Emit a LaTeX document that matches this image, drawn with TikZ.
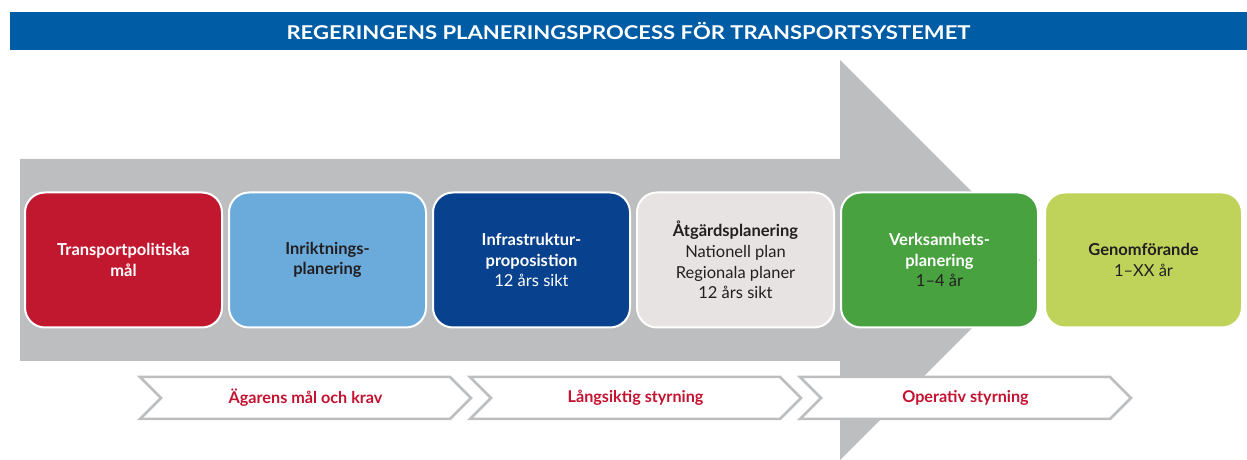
\documentclass[tikz,border=0pt]{standalone}
\usepackage{fontspec}
\setmainfont{Lato}
\usetikzlibrary{positioning,shapes.symbols}

\definecolor{titleblue}{HTML}{005DA5}
\definecolor{arrowgrey}{HTML}{BCBEC0}
\definecolor{polred}{HTML}{C1172F}
\definecolor{inrblue}{HTML}{6AABDC}
\definecolor{infblue}{HTML}{08418D}
\definecolor{atgrey}{HTML}{E6E3E2}
\definecolor{verkgreen}{HTML}{48A23F}
\definecolor{genlime}{HTML}{BFD35A}
\definecolor{darktext}{HTML}{231F20}
\definecolor{textred}{HTML}{C41230}

\begin{document}
\begin{tikzpicture}[x=1pt,y=1pt,
	phase/.style={rectangle, rounded corners=20pt, draw=white, line width=2pt, align=center, minimum width=197pt, minimum height=135pt, font=\fontsize{16.5}{20.7}\selectfont},
	steering/.style={signal, signal from=west, signal to=east, signal pointer angle=90, draw=arrowgrey, line width=2.5pt, fill=white, minimum width=331pt, minimum height=42pt, text=textred, font=\bfseries\fontsize{16.2}{18}\selectfont}]
	\useasboundingbox (0,0) rectangle (1247,460);

	% title
	\node[fill=titleblue, text=white, minimum width=1237pt, minimum height=38pt, font=\bfseries\fontsize{19}{20}\selectfont] (title) at (628.5,429) {\scalebox{1.16}[1]{REGERINGENS PLANERINGSPROCESS FÖR TRANSPORTSYSTEMET}};

	% big arrow
	\fill[arrowgrey] (20,301) -- (840,301) -- (840,400) -- (1040,200) -- (840,0) -- (840,99) -- (20,99) -- cycle;

	% phases
	\node[phase, fill=polred, text=white] (mal) at (123.5,200) {\textbf{Transportpolitiska}\\\textbf{mål}}; %
	\node[phase, fill=inrblue, text=darktext, right=5pt of mal] (inr) {\textbf{Inriktnings-}\\\textbf{planering}}; %
	\node[phase, fill=infblue, text=white, right=5pt of inr] (infra) {\textbf{Infrastruktur-}\\\textbf{proposistion}\\12 års sikt}; %
	\node[phase, fill=atgrey, text=darktext, right=5pt of infra] (atg) {\textbf{Åtgärdsplanering}\\Nationell plan\\Regionala planer\\12 års sikt}; %
	\node[phase, fill=verkgreen, text=white, right=5pt of atg] (verk) {\textbf{Verksamhets-}\\\textbf{planering}\\\textcolor{darktext}{1–4 år}}; %
	\node[phase, fill=genlime, text=darktext, right=5pt of verk] (gen) {\textbf{Genomförande}\\1–XX år}; %

	% steering
	\node[steering] (agare) at (305.5,62) {Ägarens mål och krav}; %
	\node[steering] (lang) at (635.5,62) {Långsiktig styrning}; %
	\node[steering] (oper) at (965.5,62) {Operativ styrning}; %
\end{tikzpicture}
\end{document}
